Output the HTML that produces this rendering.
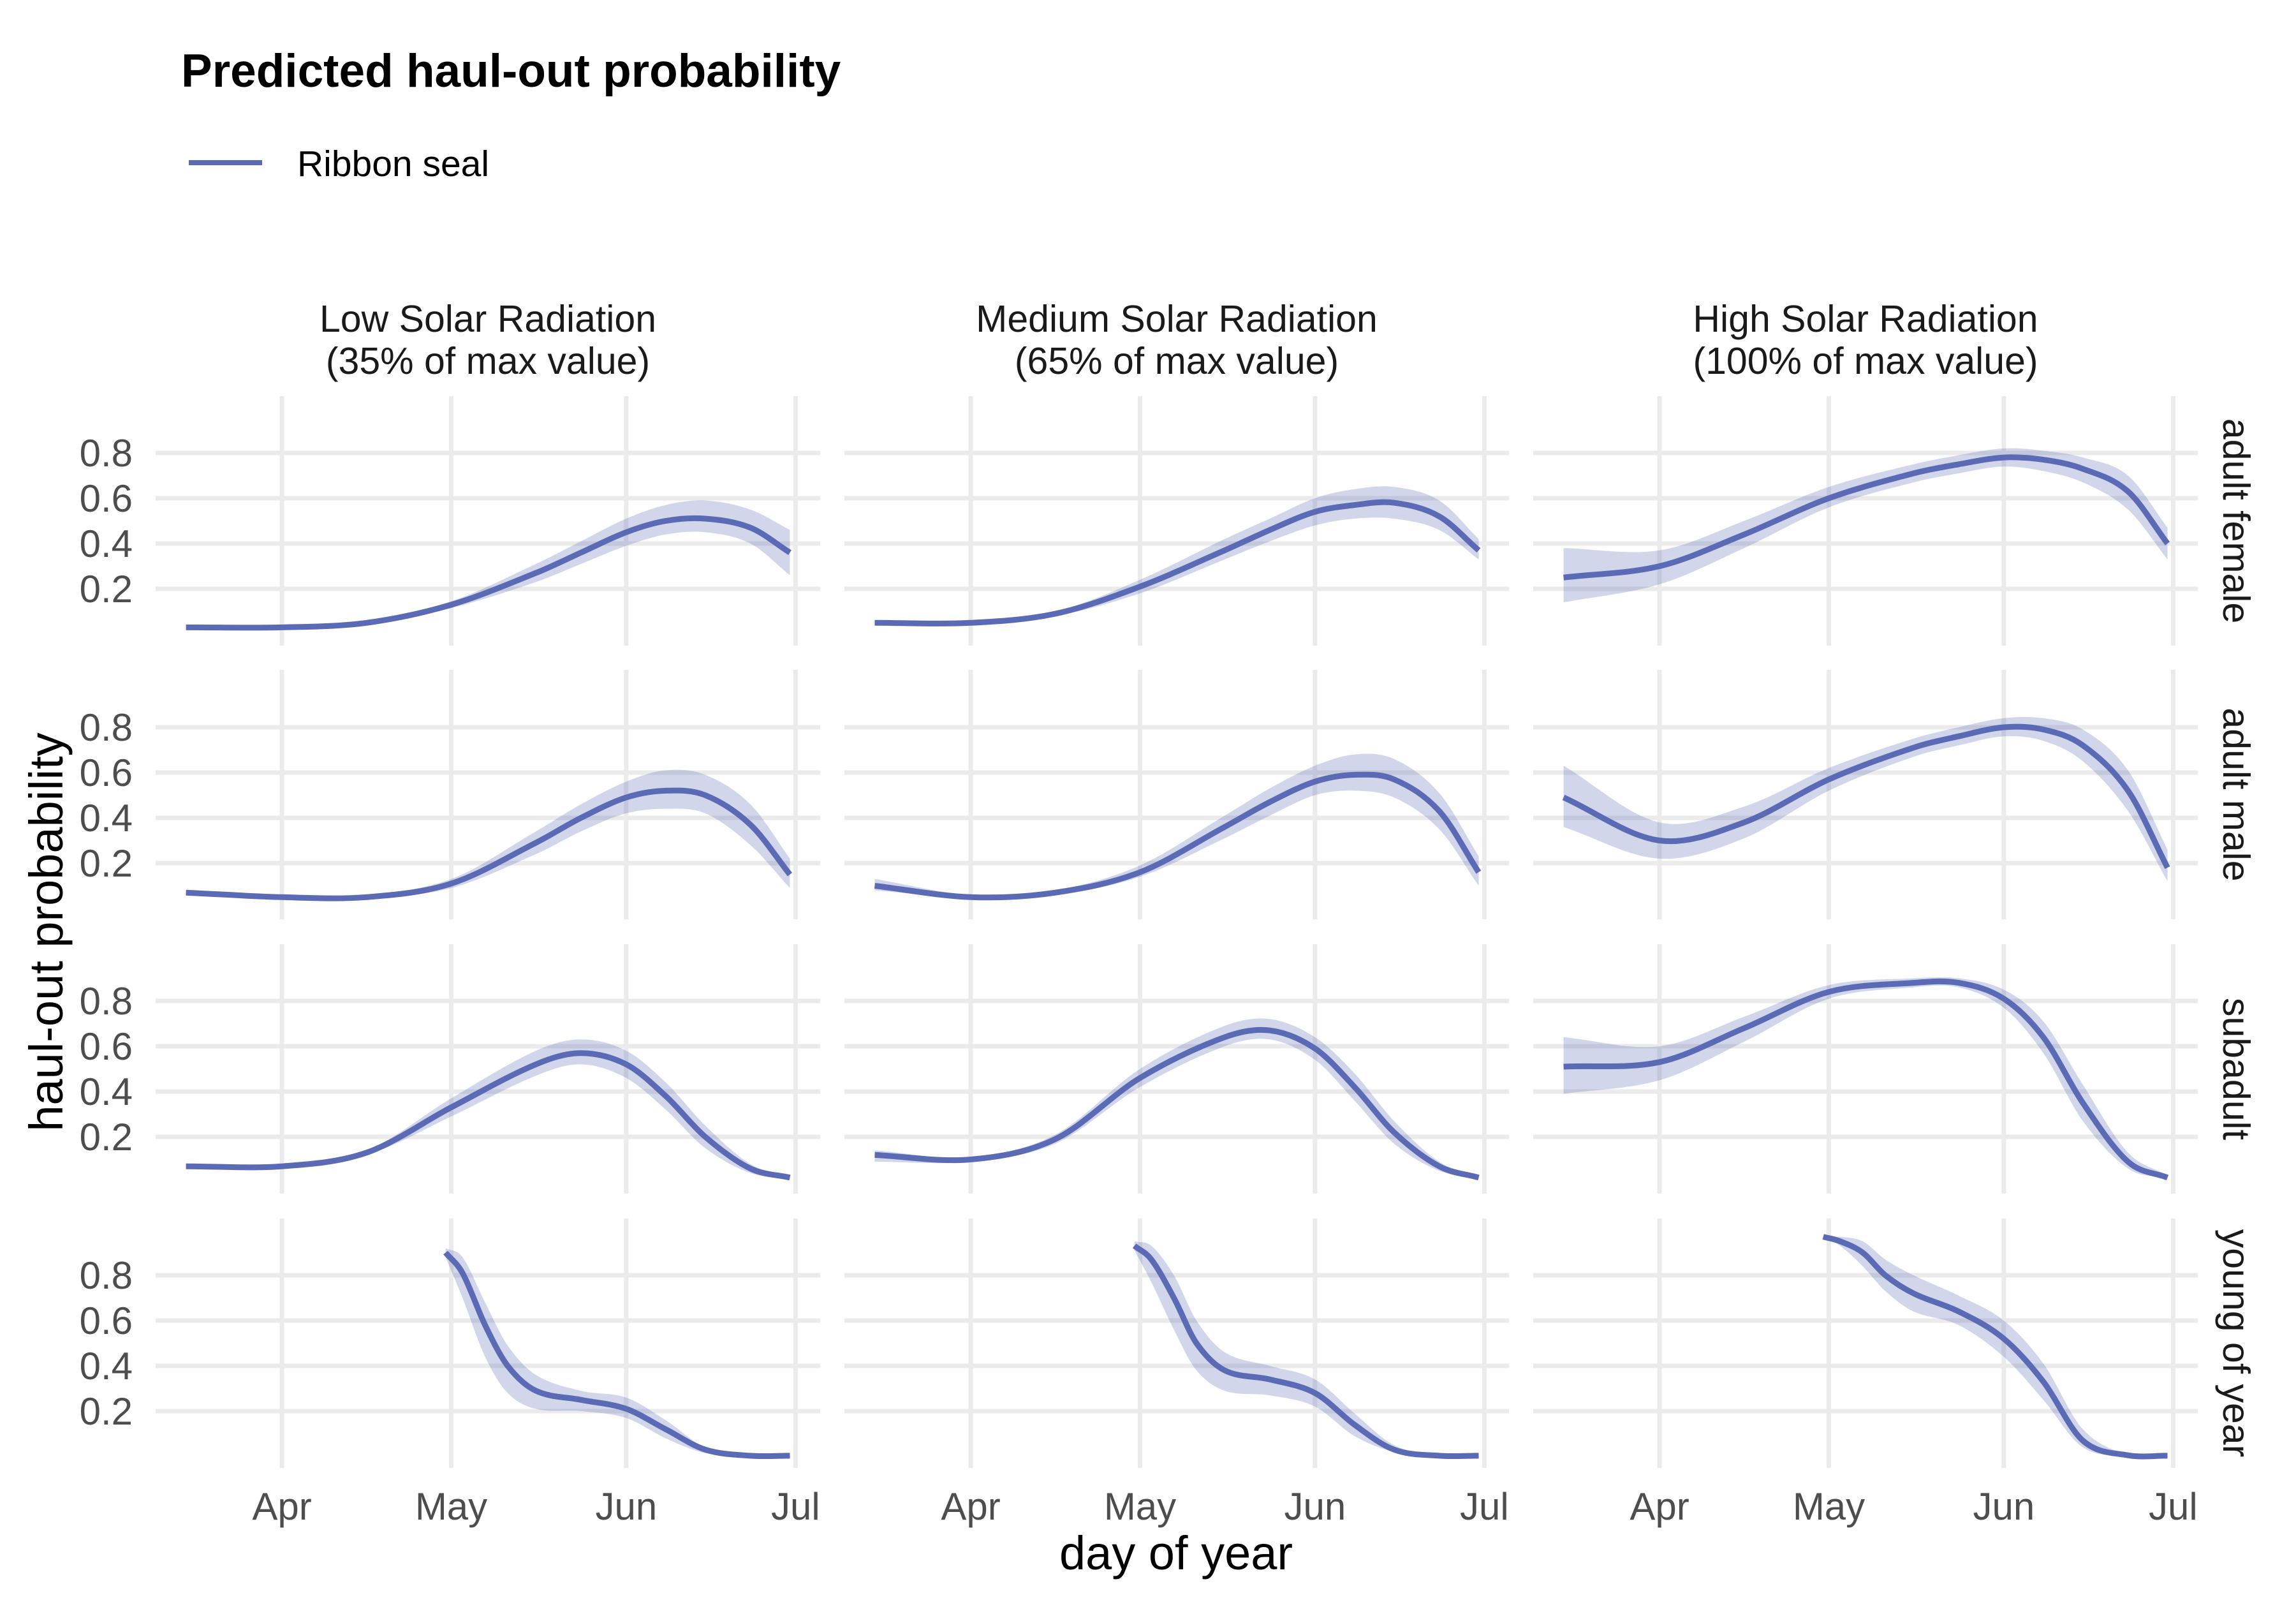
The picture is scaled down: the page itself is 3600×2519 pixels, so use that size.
<!DOCTYPE html>
<html><head><meta charset="utf-8">
<style>
html,body{margin:0;padding:0;background:#fff;}
svg{display:block;font-family:"Liberation Sans",Arial,sans-serif;}
</style></head>
<body>
<svg id="chart" width="3600" height="2519" viewBox="0 0 3600 2519" xmlns="http://www.w3.org/2000/svg">
<rect width="3600" height="2519" fill="#fff"/>
<text x="284" y="136" font-size="73" font-weight="bold" fill="#000">Predicted haul-out probability</text>
<line x1="296" y1="255" x2="411" y2="255" stroke="#5b6ab4" stroke-width="8"/>
<text x="466" y="276" font-size="57" fill="#000">Ribbon seal</text>
<text transform="translate(98,1461) rotate(-90)" text-anchor="middle" font-size="74" fill="#000">haul-out probability</text>
<text x="1844" y="2460" text-anchor="middle" font-size="74" fill="#000">day of year</text>
<g id="panels"></g>
</svg>
<script>
const colLabels1 = ["Low Solar Radiation","Medium Solar Radiation","High Solar Radiation"];
const colLabels2 = ["(35% of max value)","(65% of max value)","(100% of max value)"];
const rowLabels = ["adult female","adult male","subadult","young of year"];
const yTicks = [0.2,0.4,0.6,0.8];
const yTickLabels = ["0.2","0.4","0.6","0.8"];
const xTicks = [91,121,152,182];
const xTickLabels = ["Apr","May","Jun","Jul"];
const days = [74,91,106,121,136,144,152,159,166,174,181];
const daysYoy = [120,123,127,131,136,144,152,159,166,174,181];

// adult female
const afLowMean=[0.03,0.03,0.05,0.13,0.27,0.36,0.45,0.50,0.51,0.47,0.36];
const afLowLo=[0.03,0.03,0.045,0.115,0.23,0.31,0.39,0.44,0.45,0.40,0.26];
const afLowHi=[0.03,0.035,0.06,0.145,0.31,0.41,0.51,0.57,0.59,0.55,0.46];
const afMedMean=[0.05,0.05,0.09,0.21,0.37,0.46,0.54,0.57,0.58,0.52,0.37];
const afMedLo=[0.045,0.045,0.08,0.18,0.33,0.41,0.48,0.51,0.51,0.46,0.33];
const afMedHi=[0.055,0.055,0.10,0.24,0.42,0.51,0.60,0.64,0.65,0.59,0.42];
const afHighMean=[0.25,0.30,0.44,0.60,0.71,0.75,0.78,0.77,0.73,0.63,0.40];
const afHighLo=[0.14,0.22,0.38,0.56,0.67,0.71,0.74,0.72,0.67,0.55,0.33];
const afHighHi=[0.38,0.37,0.50,0.65,0.75,0.79,0.82,0.81,0.78,0.70,0.47];
// adult male
const amLowMean=[0.07,0.05,0.05,0.11,0.29,0.40,0.49,0.52,0.50,0.37,0.15];
const amLowLo=[0.06,0.045,0.045,0.09,0.24,0.34,0.42,0.44,0.42,0.28,0.09];
const amLowHi=[0.08,0.055,0.06,0.13,0.34,0.46,0.56,0.61,0.59,0.46,0.22];
const amMedMean=[0.10,0.05,0.07,0.16,0.36,0.47,0.56,0.59,0.57,0.43,0.16];
const amMedLo=[0.08,0.045,0.06,0.14,0.31,0.41,0.50,0.52,0.49,0.35,0.10];
const amMedHi=[0.13,0.06,0.08,0.19,0.41,0.53,0.63,0.68,0.66,0.51,0.23];
const amHighMean=[0.49,0.30,0.38,0.57,0.71,0.76,0.80,0.79,0.72,0.52,0.18];
const amHighLo=[0.36,0.22,0.31,0.52,0.67,0.72,0.76,0.74,0.65,0.43,0.12];
const amHighHi=[0.63,0.38,0.45,0.62,0.75,0.80,0.84,0.84,0.79,0.61,0.26];
// subadult
const saLowMean=[0.07,0.07,0.13,0.33,0.52,0.57,0.52,0.38,0.20,0.06,0.02];
const saLowLo=[0.065,0.065,0.12,0.29,0.47,0.52,0.46,0.32,0.15,0.04,0.015];
const saLowHi=[0.075,0.075,0.14,0.37,0.58,0.63,0.58,0.44,0.25,0.08,0.025];
const saMedMean=[0.12,0.10,0.19,0.46,0.64,0.67,0.59,0.42,0.22,0.07,0.02];
const saMedLo=[0.09,0.09,0.17,0.42,0.60,0.63,0.54,0.36,0.17,0.05,0.015];
const saMedHi=[0.14,0.11,0.21,0.50,0.69,0.72,0.64,0.48,0.27,0.09,0.025];
const saHighMean=[0.51,0.53,0.68,0.84,0.88,0.88,0.81,0.64,0.35,0.09,0.02];
const saHighLo=[0.39,0.45,0.62,0.81,0.86,0.86,0.77,0.57,0.27,0.06,0.015];
const saHighHi=[0.64,0.60,0.73,0.87,0.90,0.90,0.85,0.71,0.43,0.13,0.03];
// young of year
const yoyLowMean=[0.90,0.81,0.58,0.40,0.29,0.25,0.21,0.12,0.03,0.003,0.003];
const yoyLowLo=[0.88,0.70,0.44,0.28,0.21,0.20,0.17,0.08,0.015,0.002,0.002];
const yoyLowHi=[0.92,0.88,0.68,0.49,0.36,0.29,0.26,0.16,0.04,0.005,0.005];
const yoyMedMean=[0.93,0.87,0.70,0.50,0.38,0.34,0.28,0.14,0.03,0.003,0.003];
const yoyMedLo=[0.91,0.77,0.56,0.38,0.29,0.27,0.22,0.09,0.02,0.002,0.002];
const yoyMedHi=[0.95,0.93,0.80,0.60,0.46,0.40,0.34,0.19,0.05,0.005,0.005];
const yoyHighMean=[0.97,0.95,0.90,0.80,0.72,0.64,0.52,0.33,0.07,0.005,0.003];
const yoyHighLo=[0.97,0.93,0.84,0.73,0.64,0.58,0.44,0.25,0.04,0.003,0.002];
const yoyHighHi=[0.97,0.97,0.95,0.87,0.80,0.71,0.60,0.41,0.12,0.008,0.005];

const series = [
 [[afLowMean,afLowLo,afLowHi],[afMedMean,afMedLo,afMedHi],[afHighMean,afHighLo,afHighHi]],
 [[amLowMean,amLowLo,amLowHi],[amMedMean,amMedLo,amMedHi],[amHighMean,amHighLo,amHighHi]],
 [[saLowMean,saLowLo,saLowHi],[saMedMean,saMedLo,saMedHi],[saHighMean,saHighLo,saHighHi]],
 [[yoyLowMean,yoyLowLo,yoyLowHi],[yoyMedMean,yoyMedLo,yoyMedHi],[yoyHighMean,yoyHighLo,yoyHighHi]]
];

const NS="http://www.w3.org/2000/svg";
const root=document.getElementById('panels');
const colLeft=[244,1324,2404], colW=1042;
const rowTop=[621,1050,1480,1910], rowH=391;
const rowZero=[994,1424,1853,2283], unit=355;
function xScale(c,d){return colLeft[c]+198+(d-91)*8.85;}
function yScale(r,v){return rowZero[r]-v*unit;}
function mk(tag,attrs,parent){const e=document.createElementNS(NS,tag);for(const k in attrs)e.setAttribute(k,attrs[k]);parent.appendChild(e);return e;}
function hermite(r){
  const n=r.length, m=[];
  for(let i=0;i<n;i++){
    const a=r[Math.max(i-1,0)], b=r[Math.min(i+1,n-1)];
    m.push((b[1]-a[1])/(b[0]-a[0]));
  }
  let d="";
  for(let i=0;i<n-1;i++){
    const p1=r[i],p2=r[i+1],h=(p2[0]-p1[0])/3;
    d+=" C"+(p1[0]+h).toFixed(1)+","+(p1[1]+m[i]*h).toFixed(1)+" "+(p2[0]-h).toFixed(1)+","+(p2[1]-m[i+1]*h).toFixed(1)+" "+p2[0].toFixed(1)+","+p2[1].toFixed(1);
  }
  return d;
}
function spline(pts){return "M"+pts[0][0].toFixed(1)+","+pts[0][1].toFixed(1)+hermite(pts);}
for(let r=0;r<4;r++){
  for(let c=0;c<3;c++){
    const g=mk('g',{},root);
    
    
    yTicks.forEach(v=>{
      const l=mk('line',{x1:colLeft[c],x2:colLeft[c]+colW,y1:yScale(r,v),y2:yScale(r,v),stroke:'#ebebeb','stroke-width':7},g);
      
      
    });
    xTicks.forEach(d=>{
      const l=mk('line',{x1:xScale(c,d),x2:xScale(c,d),y1:rowTop[r],y2:rowTop[r]+rowH,stroke:'#ebebeb','stroke-width':7},g);
      
      
    });
    const [mean,lo,hi]=series[r][c];
    const dd = r===3?daysYoy:days;
    const hiPts=dd.map((d,i)=>[xScale(c,d),yScale(r,hi[i])]);
    const loRev=dd.map((d,i)=>[xScale(c,d),yScale(r,lo[i])]).reverse();
    const band=mk('path',{d:spline(hiPts)+" L"+loRev[0][0].toFixed(1)+","+loRev[0][1].toFixed(1)+hermite(loRev)+" Z",fill:'#5b6ab4','fill-opacity':0.28},g);
    
    
    const line=mk('path',{d:spline(dd.map((d,i)=>[xScale(c,d),yScale(r,mean[i])])),fill:'none',stroke:'#5b6ab4','stroke-width':9},g);
    
    
    if(c===0){
      yTicks.forEach((v,i)=>{
        const t=mk('text',{x:208,y:yScale(r,v)+21,'text-anchor':'end','font-size':60,fill:'#4d4d4d'},root);
        t.textContent=yTickLabels[i];
        
        
      });
    }
    if(r===3){
      xTicks.forEach((d,i)=>{
        const t=mk('text',{x:xScale(c,d),y:2382,'text-anchor':'middle','font-size':60,fill:'#4d4d4d'},root);
        t.textContent=xTickLabels[i];
        
        
      });
    }
  }
  const t=mk('text',{transform:'translate(3486,'+(rowTop[r]+rowH/2)+') rotate(90)','text-anchor':'middle','font-size':59,fill:'#1a1a1a'},root);
  t.textContent=rowLabels[r];
  
  
}
for(let c=0;c<3;c++){
  const cx=colLeft[c]+colW/2;
  const t1=mk('text',{x:cx,y:520,'text-anchor':'middle','font-size':59,fill:'#1a1a1a'},root);
  t1.textContent=colLabels1[c];
  
  
  const t2=mk('text',{x:cx,y:586,'text-anchor':'middle','font-size':59,fill:'#1a1a1a'},root);
  t2.textContent=colLabels2[c];
  
  
}
</script>
</body></html>
